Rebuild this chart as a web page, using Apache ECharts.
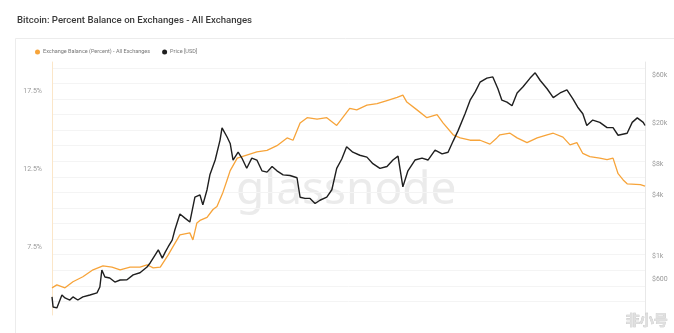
<!DOCTYPE html>
<html>
<head>
<meta charset="utf-8">
<script src="https://cdn.jsdelivr.net/npm/echarts@6/dist/echarts.min.js"></script>
<style>
html,body{margin:0;padding:0;background:#fff;}
#chart{width:674px;height:333px;}
</style>
</head>
<body>
<div id="chart"></div>
<script>
var titleText = 'Bitcoin: Percent Balance on Exchanges - All Exchanges';
var balanceName = 'Exchange Balance (Percent) - All Exchanges';
var priceName = 'Price [USD]';

var balanceDates = ['2015-11-07','2015-11-29','2016-01-05','2016-02-10','2016-03-26','2016-05-11','2016-06-25','2016-08-05','2016-09-11','2016-10-26','2016-12-10','2017-01-11','2017-02-08','2017-03-12','2017-04-17','2017-05-08','2017-06-09','2017-07-24','2017-08-07','2017-08-25','2017-09-08','2017-10-10','2017-11-06','2017-11-24','2017-12-21','2018-01-09','2018-01-23','2018-02-24','2018-04-08','2018-05-24','2018-07-09','2018-08-23','2018-10-08','2018-11-04','2018-12-06','2019-01-07','2019-02-21','2019-04-06','2019-05-21','2019-06-17','2019-07-19','2019-08-20','2019-10-05','2019-11-20','2020-01-04','2020-02-19','2020-03-16','2020-04-03','2020-05-19','2020-07-03','2020-08-18','2020-09-15','2020-10-30','2020-12-01','2021-01-15','2021-03-01','2021-04-15','2021-05-16','2021-05-30','2021-07-15','2021-08-16','2021-09-30','2021-11-15','2021-12-30','2022-01-27','2022-03-12','2022-04-13','2022-05-14','2022-06-10','2022-07-12','2022-08-26','2022-09-28','2022-10-25','2022-11-17','2022-12-10','2022-12-28','2023-02-26','2023-03-19'];
var balanceValues = [4.87,5.06,4.87,5.26,5.58,6.03,6.28,6.2,6.03,6.2,6.2,6.35,6.15,6.2,6.99,7.5,8.27,8.4,7.95,9.04,9.2,9.4,9.9,10.1,11.0,11.8,12.4,13.2,13.4,13.6,13.7,14.0,14.5,14.35,15.45,15.8,15.7,15.8,15.3,15.8,16.4,16.3,16.6,16.7,16.9,17.1,17.25,16.8,16.3,15.8,16.0,15.45,14.7,14.5,14.35,14.35,14.1,14.5,14.7,14.8,14.5,14.2,14.5,14.7,14.8,14.55,14.05,14.2,13.5,13.3,13.2,13.1,13.2,12.2,11.8,11.55,11.5,11.4];

var priceDates = ['2015-11-07','2015-11-12','2015-11-29','2015-12-22','2016-01-05','2016-01-27','2016-02-10','2016-03-03','2016-03-26','2016-04-27','2016-05-29','2016-06-11','2016-06-20','2016-07-04','2016-07-26','2016-08-18','2016-09-11','2016-10-12','2016-11-09','2016-12-10','2017-01-11','2017-01-25','2017-02-17','2017-03-03','2017-03-21','2017-04-04','2017-04-17','2017-05-05','2017-05-17','2017-06-09','2017-07-02','2017-07-24','2017-08-16','2017-09-08','2017-09-21','2017-10-10','2017-10-23','2017-11-16','2017-12-08','2017-12-17','2018-01-09','2018-01-23','2018-02-05','2018-02-28','2018-03-17','2018-04-08','2018-05-01','2018-05-24','2018-06-16','2018-07-09','2018-08-01','2018-08-23','2018-09-20','2018-10-21','2018-11-22','2018-12-06','2018-12-28','2019-01-20','2019-02-12','2019-03-06','2019-04-06','2019-04-29','2019-05-21','2019-06-13','2019-07-05','2019-08-02','2019-09-03','2019-10-05','2019-11-01','2019-12-03','2020-01-04','2020-01-31','2020-02-23','2020-03-16','2020-04-08','2020-05-10','2020-06-11','2020-07-08','2020-08-09','2020-09-10','2020-10-07','2020-10-30','2020-11-21','2020-12-23','2021-01-15','2021-02-07','2021-03-01','2021-04-01','2021-04-28','2021-05-21','2021-06-08','2021-07-01','2021-07-24','2021-08-16','2021-09-12','2021-10-14','2021-11-06','2021-11-29','2021-12-30','2022-01-27','2022-02-27','2022-03-30','2022-04-26','2022-05-18','2022-06-10','2022-06-28','2022-07-25','2022-08-26','2022-09-28','2022-10-25','2022-11-17','2022-12-28','2023-01-20','2023-02-12','2023-03-11','2023-03-19'];
var priceValues = [400,319,312,418,391,373,400,373,400,418,438,501,734,627,613,560,586,590,658,690,786,861,1035,1158,961,1105,1243,1443,1813,2600,2370,2170,3800,4000,3200,4500,6300,8800,13800,18200,14800,12800,8800,10500,9200,7300,9200,8800,6900,6700,7600,6900,6300,6200,5900,3800,3700,3700,3300,3550,3800,4500,7300,9000,11900,10500,9800,9400,8100,7300,7600,8800,9600,4800,6900,8800,9200,8800,11000,10100,10500,13500,17000,25000,34000,41000,51000,56000,57500,44000,34000,32500,30000,40000,46000,56000,63000,53000,44000,36000,40000,43000,35000,29000,25000,19200,21700,20600,18300,18300,15400,16100,20600,22800,20600,19200];

var percentTicks = [7.5, 12.5, 17.5];
var percentGrid = [4,5,6,7,8,9,10,11,12,13,14,15,16,17,18,19];
var priceTicks = [600, 1000, 4000, 8000, 20000, 60000];

function zip(d, v) { return d.map(function (x, i) { return [x, v[i]]; }); }

var chart = echarts.init(document.getElementById('chart'), null, {renderer: 'canvas'});
var FONT = 'Roboto, "Noto Sans", sans-serif';
chart.setOption({
  backgroundColor: '#fff',
  animation: false,
  title: {
    text: titleText, left: 12, top: 11,
    textStyle: {fontSize: 9.6, fontWeight: 500, color: '#3a3a3a', fontFamily: FONT}
  },
  legend: {
    left: 30, top: 44, itemWidth: 5, itemHeight: 5, itemGap: 12, icon: 'circle',
    textStyle: {fontSize: 5.5, color: '#777', fontFamily: FONT, padding: [0, 0, 0, -2]},
    data: [balanceName, priceName]
  },
  graphic: [
    {type: 'rect', shape: {x: 15.5, y: 38.5, width: 680, height: 320}, style: {fill: 'none', stroke: '#ececec', lineWidth: 1}, z: -10, silent: true},
    {type: 'text', left: 236, top: 168, style: {text: 'glassnode', fontSize: 46, fontFamily: '"Noto Sans", sans-serif', fill: '#ebebeb'}, z: 0, silent: true},
    {type: 'text', right: 6, top: 312, style: {text: '非小号', fontSize: 14, fontWeight: 'bold', fontFamily: '"Noto Sans CJK SC", sans-serif', fill: '#e0e0e0', stroke: '#bdbdbd', lineWidth: 0.6}, z: 10, silent: true}
  ],
  grid: {left: 52, right: 29, top: 62, bottom: 18},
  xAxis: {
    type: 'time', min: '2015-11-07', max: '2023-03-19',
    axisLine: {show: false}, axisTick: {show: false}, axisLabel: {show: false}, splitLine: {show: false}
  },
  yAxis: [
    {
      type: 'value', position: 'left', min: 3.125, max: 19.375,
      axisLine: {show: true, lineStyle: {color: '#fbe6c8', width: 1}},
      axisTick: {show: false, customValues: percentGrid},
      axisLabel: {customValues: percentTicks, fontSize: 7, color: '#9a9a9a', margin: 10, fontFamily: FONT,
        formatter: function (v) { return v.toFixed(1) + '%'; }},
      splitLine: {show: true, lineStyle: {color: '#f4f4f4', width: 1}}
    },
    {
      type: 'log', position: 'right', min: 266, max: 80500,
      axisLine: {show: true, lineStyle: {color: '#e8e8e8', width: 1}},
      axisTick: {show: false, customValues: priceTicks},
      axisLabel: {customValues: priceTicks, fontSize: 7, color: '#9a9a9a', margin: 7, fontFamily: FONT,
        formatter: function (v) { return v >= 1000 ? '$' + Math.round(v / 1000) + 'k' : '$' + Math.round(v); }},
      splitLine: {show: false}
    }
  ],
  series: [
    {
      name: balanceName, type: 'line', yAxisIndex: 0, showSymbol: false, z: 3,
      data: zip(balanceDates, balanceValues),
      itemStyle: {color: '#f7a43a'},
      lineStyle: {color: '#f7a43a', width: 1.3}
    },
    {
      name: priceName, type: 'line', yAxisIndex: 1, showSymbol: false, z: 4,
      data: zip(priceDates, priceValues),
      itemStyle: {color: '#1f1f1f'},
      lineStyle: {color: '#1f1f1f', width: 1.4}
    }
  ]
});
</script>
</body>
</html>
